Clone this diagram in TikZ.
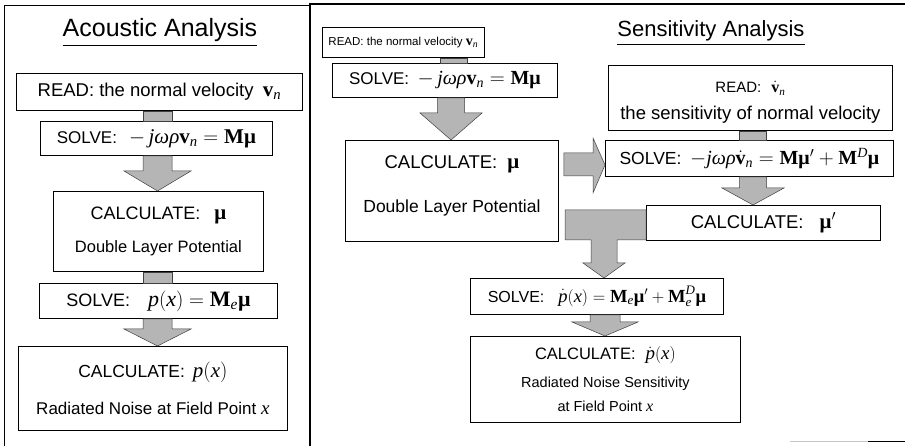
\documentclass[tikz,border=0pt]{standalone}
\usepackage{fontspec}
\usepackage{amsmath}
\setmainfont{Liberation Sans}
\newfontfamily\tms{Liberation Serif}
\usetikzlibrary{calc}
\newcommand{\tb}[1]{\text{\tms\bfseries #1}}
\newcommand{\ti}[1]{\text{\tms\itshape #1}}
\newcommand{\fs}[1]{\fontsize{#1}{#1}\selectfont}
\newcommand{\fm}[2]{{\fs{#1}$#2$}}
\newcommand{\dep}[1]{\rule[-#1]{0pt}{0pt}}
\newcommand{\blkshaft}[4]{%
  \draw[arrowfill] let \p1=(#1), \p2=(#2) in (#3pt-#4pt,\y1) rectangle (#3pt+#4pt,\y2);}
\newcommand{\blkdown}[6]{%
  \draw[arrowfill] let \p1=(#1), \p2=(#2) in
    (#3pt-#4pt,\y1) -- (#3pt-#4pt,\y2+#6pt) -- (#3pt-#5pt,\y2+#6pt) -- (#3pt,\y2)
    -- (#3pt+#5pt,\y2+#6pt) -- (#3pt+#4pt,\y2+#6pt) -- (#3pt+#4pt,\y1) -- cycle;}
\begin{document}
\begin{tikzpicture}[x=1pt,y=-1pt,
  box/.style={draw, line width=0.8pt, inner sep=0pt, anchor=north west, align=center,
    font=\fs{16}},
  arrowfill/.style={fill=gray!58, draw=black!75, line width=0.5pt},
  title/.style={font=\fs{25}}]
\useasboundingbox (0,0) rectangle (905,446);
\fill[white] (0,0) rectangle (905,446);
% frames
\draw[line width=1pt] (4,446) -- (4,6) -- (310,6);
\draw[line width=1.6pt] (310,446) -- (310,4) -- (905,4);
\draw[gray!45, line width=0.6pt] (790,441) -- (868,441);
\draw[line width=1pt] (868,441) -- (905,441);
% titles
\node[title] (tleft) at (160,33) {\underline{Acoustic Analysis}};
\node[title, font=\fs{22}] (tright) at (711,33) {\underline{Sensitivity Analysis}};
% left panel
\node[box, minimum width=286pt, minimum height=37pt, font=\fs{18.5}] (lread) at (16,73)
  {READ: the normal velocity\enspace\fm{21}{\tb{v}_{\ti{n}}}};
\node[box, minimum width=232pt, minimum height=34pt, font=\fs{17}] (lsolve) at (40,121)
  {SOLVE:\hspace{12pt}\fm{21}{-\,\ti{jωρ}\tb{v}_{\ti{n}} = \tb{Mμ}}};
\node[box, minimum width=210pt, minimum height=80pt] (lcalc) at (53,191)
  {{\fs{18}CALCULATE:}\hspace{14pt}\fm{21}{\tb{μ}}\\[15pt]{\fs{16.5}Double Layer Potential}};
\node[box, minimum width=238pt, minimum height=35pt, font=\fs{18}] (lsolve2) at (39,283)
  {SOLVE:\hspace{18pt}\fm{22}{\ti{p}(\ti{x}) = \tb{M}_{\ti{e}}\tb{μ}}};
\node[box, minimum width=269pt, minimum height=84pt] (lcalc2) at (18,346)
  {{\fs{17.5}CALCULATE:}\enspace\fm{21}{\ti{p}(\ti{x})}\\[18pt]{\fs{17}Radiated Noise at Field Point \fm{19}{\ti{x}}}};
\blkshaft{lread.south}{lsolve.north}{157.5}{14.5}
\blkdown{lsolve.south}{lcalc.north}{157.5}{14.5}{33.5}{20}
\blkshaft{lcalc.south}{lsolve2.north}{157.5}{14.5}
\blkdown{lsolve2.south}{lcalc2.north}{157.5}{14.5}{33.5}{17}
% right panel
\node[box, minimum width=162pt, minimum height=30pt, font=\fs{11.5}] (rread) at (322,27)
  {READ: the normal velocity \fm{14}{\tb{v}_{\ti{n}}}};
\node[box, minimum width=225pt, minimum height=34pt, font=\fs{17}] (rsolve) at (332,63)
  {SOLVE:\enspace\fm{20}{-\,\ti{jωρ}\tb{v}_{\ti{n}} = \tb{Mμ}}};
\node[box, minimum width=213pt, minimum height=101pt] (rcalc) at (345,140)
  {{\fs{18.5}CALCULATE:}\hspace{10pt}\fm{21}{\tb{μ}}\\[26pt]{\fs{17.5}Double Layer Potential\dep{14pt}}};
\node[box, minimum width=284pt, minimum height=65pt] (rread2) at (608,65)
  {{\fs{15}\rule{0pt}{20pt}READ:}\hspace{10pt}\fm{16}{\dot{\tb{v}}_{\ti{n}}}\\[11pt]{\fs{18.5}the sensitivity of normal velocity}};
\node[box, minimum width=288pt, minimum height=36pt, font=\fs{17.5}] (rsolve2) at (605,140)
  {SOLVE:\enspace\fm{20}{-\ti{jωρ}\dot{\tb{v}}_{\ti{n}} = \tb{Mμ}'+\tb{M}^{\ti{D}}\tb{μ}}};
\node[box, minimum width=234pt, minimum height=35pt, font=\fs{18.5}] (rcalc2) at (646,205)
  {CALCULATE:\hspace{16pt}\fm{21}{\tb{μ}'}};
\node[box, minimum width=253pt, minimum height=36pt, font=\fs{16}] (rsolve3) at (470,278)
  {SOLVE:\hspace{14pt}\fm{18.5}{\dot{\ti{p}}(\ti{x}) = \tb{M}_{\ti{e}}\tb{μ}' + \tb{M}_{\ti{e}}^{\ti{D}}\tb{μ}}};
\node[box, minimum width=270pt, minimum height=86pt] (rcalc3) at (470,336)
  {{\fs{16.5}CALCULATE:}\hspace{10pt}\fm{19}{\dot{\ti{p}}(\ti{x})}\\[12pt]{\fs{14.5}Radiated Noise Sensitivity}\\[8pt]{\fs{14.5}at Field Point \fm{16}{\ti{x}}}};
\blkshaft{rread.south}{rsolve.north}{453.5}{13.5}
\blkdown{rsolve.south}{rcalc.north}{451}{13.5}{31}{27}
\blkshaft{rread2.south}{rsolve2.north}{753}{13.5}
\blkdown{rsolve2.south}{rcalc2.north}{753}{13.5}{31}{17}
\blkdown{rsolve3.south}{rcalc3.north}{605}{15}{33}{14}
% right arrow
\draw[arrowfill] let \p1=(rcalc.east), \p2=(rsolve2.west) in
  (\x1+5pt,-153pt) -- (\x2-12pt,-153pt) -- (\x2-12pt,-138pt) -- (\x2,-165pt)
  -- (\x2-12pt,-193pt) -- (\x2-12pt,-176pt) -- (\x1+5pt,-176pt) -- cycle;
% L arrow
\draw[arrowfill] let \p1=(rcalc2.west), \p2=(rsolve3.north) in
  (\x1,-210pt) -- (565pt,-210pt) -- (565pt,-240pt) -- (591pt,-240pt) -- (591pt,\y2+15pt)
  -- (583pt,\y2+15pt) -- (604pt,\y2) -- (625pt,\y2+15pt) -- (617pt,\y2+15pt)
  -- (617pt,-240pt) -- (\x1,-240pt) -- cycle;
\end{tikzpicture}
\end{document}
